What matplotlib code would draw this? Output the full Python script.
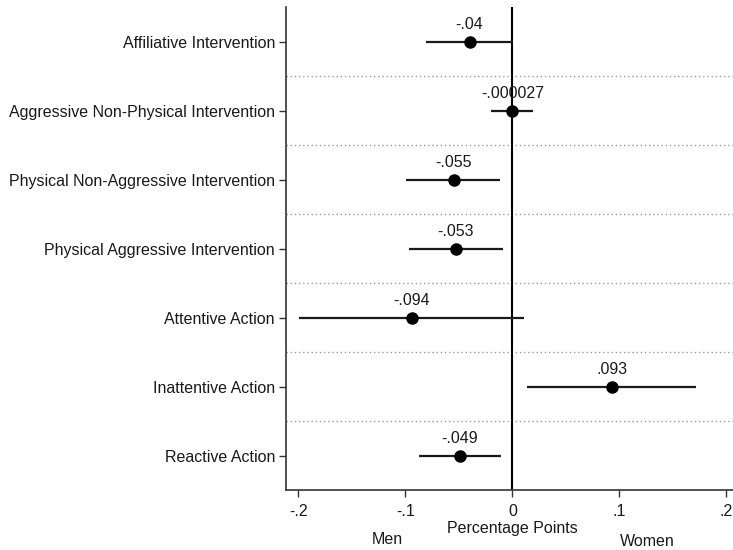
import matplotlib
matplotlib.use("Agg")
import matplotlib.pyplot as plt
import matplotlib.transforms as mtransforms

plt.rcParams['font.family'] = ['Liberation Sans', 'DejaVu Sans']

categories = [
    "Affiliative Intervention",
    "Aggressive Non-Physical Intervention",
    "Physical Non-Aggressive Intervention",
    "Physical Aggressive Intervention",
    "Attentive Action",
    "Inattentive Action",
    "Reactive Action",
]
estimates = [-0.04, -0.000027, -0.055, -0.053, -0.094, 0.093, -0.049]
ci_low = [-0.081, -0.020, -0.099, -0.097, -0.199, 0.014, -0.0875]
ci_high = [0.0005, 0.0196, -0.0115, -0.009, 0.0106, 0.172, -0.0106]
value_labels = ["-.04", "-.000027", "-.055", "-.053", "-.094", ".093", "-.049"]
xticks = [-0.2, -0.1, 0, 0.1, 0.2]
xticklabels = ["-.2", "-.1", "0", ".1", ".2"]

FS = 11.5
TXT = '#1a1a1a'

fig = plt.figure(figsize=(7.33, 5.5), dpi=100)
ax = fig.add_axes([286/733, 1 - 490/550, 1 - 286/733, (490 - 7)/550])

ypos = list(range(len(categories)))
ax.set_ylim(len(categories) - 0.5, -0.5)
ax.set_xlim(-0.2115, 0.2061)

# dotted separators
for i in range(len(categories) - 1):
    ax.axhline(i + 0.5, color='#999999', lw=1.0, linestyle=(0, (1, 2)), zorder=1)

ax.axvline(0, color='black', lw=1.5, zorder=2)

for y, est, lo, hi, lab in zip(ypos, estimates, ci_low, ci_high, value_labels):
    ax.plot([lo, hi], [y, y], color='#1a1a1a', lw=1.6, zorder=3, solid_capstyle='butt')
    ax.plot([est], [y], 'o', color='black', markersize=8, zorder=4)
    ax.annotate(lab, (est, y), xytext=(0, 12), textcoords='offset points',
                ha='center', va='center', fontsize=FS, color=TXT)

ax.set_yticks(ypos)
ax.set_yticklabels(categories, fontsize=FS, color=TXT)
ax.set_xticks(xticks)
ax.set_xticklabels(xticklabels, fontsize=FS, color=TXT)
ax.tick_params(axis='both', direction='out', length=5, width=1, color='#333333')
ax.tick_params(axis='x', pad=5)
ax.tick_params(axis='y', pad=3)

for side in ['top', 'right']:
    ax.spines[side].set_visible(False)
for side in ['left', 'bottom']:
    ax.spines[side].set_color('#333333')
    ax.spines[side].set_linewidth(1.2)

trans = mtransforms.blended_transform_factory(ax.transData, ax.transAxes)
ax.text(0, (490 - 528) / 483, "Percentage Points", transform=trans, ha='center', va='center',
        fontsize=FS, color=TXT)
ax.text(-0.117, (490 - 540) / 483, "Men", transform=trans, ha='center', va='center',
        fontsize=FS, color=TXT)
ax.text(0.1257, (490 - 542) / 483, "Women", transform=trans, ha='center', va='center',
        fontsize=FS, color=TXT)

fig.savefig("out.png", dpi=100)
